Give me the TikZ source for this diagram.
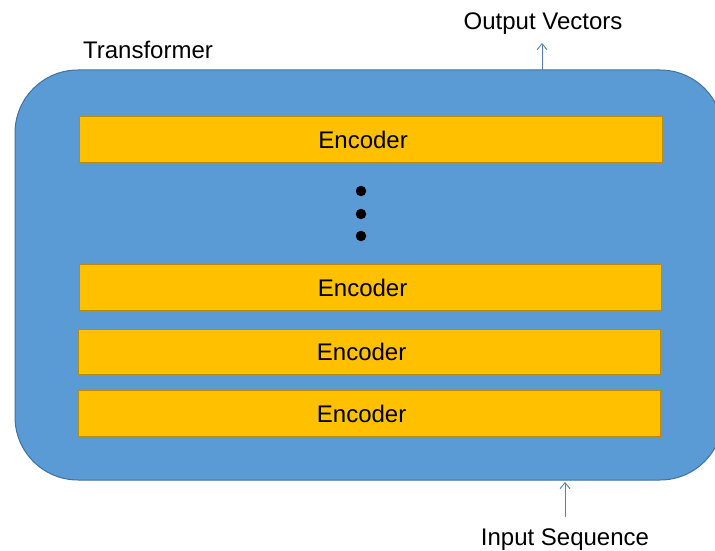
\documentclass[tikz,border=0pt]{standalone}
\usepackage{fontspec}
\setmainfont{Liberation Sans}
\usetikzlibrary{arrows.meta}
\definecolor{shellblue}{HTML}{5B9BD5}
\definecolor{shelledge}{HTML}{41719C}
\definecolor{encfill}{HTML}{FFC000}
\definecolor{encedge}{HTML}{BC8C00}
\tikzset{
  px/.style={x=1pt,y=-1pt},
  encbox/.style={draw=encedge, line width=1.2pt, fill=encfill, anchor=north west,
    minimum height=46pt, inner sep=0pt, font=\fontsize{24}{28}\selectfont},
  label/.style={font=\fontsize{24}{28}\selectfont, anchor=base, inner sep=0pt},
  flow/.style={draw=shellblue!85!black, line width=0.9pt, -{Straight Barb[length=6pt,width=10pt]}},
  dot/.style={circle, fill=black, inner sep=0pt, minimum size=10.5pt}
}
\newcommand{\enc}{Encoder\hspace*{16pt}}
\begin{document}
\begin{tikzpicture}[px]
  \useasboundingbox (0,0) rectangle (715,551);
  \begin{scope}
    \clip (0,0) rectangle (715,551);
    % transformer shell, running past the right edge
    \draw[fill=shellblue, draw=shelledge, line width=1pt, rounded corners=63pt]
      (15,70) rectangle (723,480);
  \end{scope}
  \node[label] (tf) at (148,59) {Transformer};

  % encoder stack
  \node[encbox, minimum width=583pt] (e4) at (79,116) {\enc};
  \node[encbox, minimum width=582pt] (e3) at (79,264) {\enc};
  \node[encbox, minimum width=582pt, minimum height=45pt] (e2) at (78,329) {\enc};
  \node[encbox, minimum width=582pt] (e1) at (78,390) {\enc};

  % ellipsis between the stacks
  \node[dot] (d1) at (361,191) {};
  \node[dot] (d2) at (361,214) {};
  \node[dot] (d3) at (361,236) {};

  % input and output
  \node[label] (out) at (543,30) {Output Vectors};
  \node[label] (in) at (565,545) {Input Sequence};
  \coordinate (outfoot) at (542,70);
  \coordinate (outhead) at (542,43);
  \coordinate (infoot) at (565,517);
  \coordinate (inhead) at (565,482);
  \draw[flow] (outfoot) -- (outhead);
  \draw[flow] (infoot) -- (inhead);
\end{tikzpicture}
\end{document}
